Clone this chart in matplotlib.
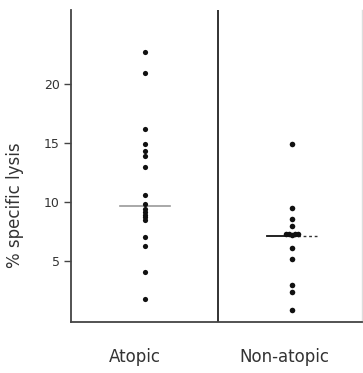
import matplotlib
matplotlib.use("Agg")
import matplotlib.pyplot as plt
import numpy as np

categories = ["Atopic", "Non-atopic"]
atopic = [22.7, 21.0, 16.2, 14.9, 14.3, 13.9, 13.0, 10.6, 9.8, 9.4, 9.2,
          8.9, 8.7, 8.5, 7.0, 6.3, 4.1, 1.8]
nonatopic = [14.9, 9.5, 8.6, 8.0, 7.3, 7.25, 7.2, 7.25, 7.3, 6.1, 5.2, 3.0, 2.4, 0.8]
nonatopic_dx = [0, 0, 0, 0, -0.04, -0.02, 0.0, 0.02, 0.04, 0, 0, 0, 0, 0]
medians = [9.7, 7.1]
yticks = [5, 10, 15, 20]

fig = plt.figure(figsize=(3.63, 3.73), dpi=100)
ax = fig.add_axes([0.195, 0.137, 0.802, 0.836])

pos = [0.5, 1.5]
ax.scatter([pos[0]] * len(atopic), atopic, s=14, color="#111111", zorder=3, linewidths=0)
ax.scatter(np.array([pos[1]] * len(nonatopic)) + np.array(nonatopic_dx), nonatopic,
           s=16, color="#111111", zorder=3, linewidths=0)

# median lines
hw = 0.17
ax.plot([pos[0] - hw, pos[0] + hw], [medians[0]] * 2, color="#9a9a9a", lw=1.2, zorder=2)
ax.plot([pos[1] - hw, pos[1]], [medians[1]] * 2, color="#111111", lw=1.3, zorder=2)
ax.plot([pos[1], pos[1] + hw], [medians[1]] * 2, color="#333333", lw=1.0,
        ls=(0, (2, 2)), zorder=2)

# divider
ax.axvline(1.0, color="#222222", lw=1.3)

ax.set_xlim(-0.006, 1.978)
ax.set_ylim(-0.17, 26.3)
ax.set_yticks(yticks)
ax.set_yticklabels([str(t) for t in yticks], fontsize=9, color="#333333")
ax.set_xticks([])
ax.tick_params(axis="y", direction="out", length=5, width=1, color="#444444", pad=3)

ax.spines["top"].set_visible(False)
ax.spines["left"].set_color("#444444")
ax.spines["left"].set_linewidth(1.3)
ax.spines["bottom"].set_color("#444444")
ax.spines["bottom"].set_linewidth(1.3)
ax.spines["right"].set_color("#dddddd")
ax.spines["right"].set_linewidth(1.0)

ax.set_ylabel("% specific lysis", fontsize=12, color="#333333")
ax.yaxis.set_label_coords(-0.16, 0.375)

ax.text(0.22, -0.112, categories[0], transform=ax.transAxes, ha="center", va="center",
        fontsize=12, color="#333333")
ax.text(0.735, -0.112, categories[1], transform=ax.transAxes, ha="center", va="center",
        fontsize=12, color="#333333")

fig.savefig("out.png", dpi=100)
